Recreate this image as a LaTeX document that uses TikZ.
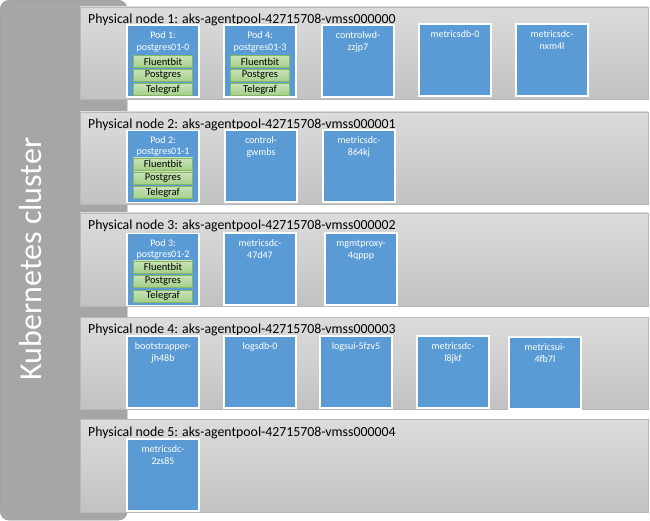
\documentclass[tikz,border=0pt]{standalone}
\usepackage{fontspec}
\setmainfont{Carlito}
\definecolor{clfill}{HTML}{A6A6A6}
\definecolor{cldraw}{HTML}{999999}
\definecolor{bdraw}{HTML}{B8B8B8}
\definecolor{btop}{HTML}{DCDCDC}
\definecolor{bbot}{HTML}{C2C2C2}
\definecolor{podblue}{HTML}{5B9BD5}
\definecolor{gdraw}{HTML}{85B765}
\definecolor{gtop}{HTML}{C9E3B8}
\definecolor{gbot}{HTML}{A5CF89}
\begin{document}
\begin{tikzpicture}[x=1pt,y=-1pt,
  cluster/.style={draw=cldraw, fill=clfill, rounded corners=9pt},
  band/.style={draw=bdraw, line width=0.8pt, top color=btop, bottom color=bbot, anchor=north west, minimum width=568pt, minimum height=92pt, inner sep=0pt, outer sep=0pt},
  bandtitle/.style={anchor=base west, inner sep=0pt, font=\fontsize{13.8}{16}\selectfont, text=black},
  podbox/.style={draw=white, line width=1.3pt, fill=podblue, anchor=north west, minimum width=72pt, minimum height=72pt, inner sep=0pt, outer sep=0pt},
  podtxt/.style={anchor=base, inner sep=0pt, text=white, font=\fontsize{10}{12}\selectfont},
  cbox/.style={draw=gdraw, line width=0.6pt, top color=gtop, bottom color=gbot, minimum width=59pt, minimum height=12pt, inner sep=0pt, font=\fontsize{10.5}{12}\selectfont, text=black},
  cltxt/.style={anchor=base, rotate=90, inner sep=0pt, text=white, font=\fontsize{32}{36}\selectfont}
]
\useasboundingbox (0,0) rectangle (650,521);

% cluster
\node[cluster, anchor=north west, minimum width=127pt, minimum height=520pt, inner sep=0pt] (cl) at (0,0) {};
\node[cltxt] (cltext) at (41.5,259) {Kubernetes cluster};

% bands
\node[band] (pn1) at (80,7) {};
\node[band] (pn2) at (80,112) {};
\node[band, minimum height=93pt] (pn3) at (80,213) {};
\node[band] (pn4) at (80,317) {};
\node[band, minimum height=93pt] (pn5) at (80,419) {};
\node[bandtitle] (t1) at (88,23.5) {Physical node 1: aks-agentpool-42715708-vmss000000};
\node[bandtitle] (t2) at (88,128.5) {Physical node 2: aks-agentpool-42715708-vmss000001};
\node[bandtitle] (t3) at (88,229.5) {Physical node 3: aks-agentpool-42715708-vmss000002};
\node[bandtitle] (t4) at (88,333.5) {Physical node 4: aks-agentpool-42715708-vmss000003};
\node[bandtitle] (t5) at (88,436.5) {Physical node 5: aks-agentpool-42715708-vmss000004};

% ---------- node 1 ----------
\node[podbox] (a1) at (127,25) {};
\node[podtxt] (a1t1) at ([yshift=-13.5pt]a1.north) {Pod 1:};
\node[podtxt] (a1t2) at ([yshift=-25.5pt]a1.north) {postgres01-0};
\node[cbox] (a1f) at ([yshift=-36.5pt]a1.north) {Fluentbit};
\node[cbox] (a1p) at ([yshift=-50.5pt]a1.north) {Postgres};
\node[cbox] (a1g) at ([yshift=-64.5pt]a1.north) {Telegraf};

\node[podbox] (a2) at (224,25) {};
\node[podtxt] (a2t1) at ([yshift=-13.5pt]a2.north) {Pod 4:};
\node[podtxt] (a2t2) at ([yshift=-25.5pt]a2.north) {postgres01-3};
\node[cbox] (a2f) at ([yshift=-36.5pt]a2.north) {Fluentbit};
\node[cbox] (a2p) at ([yshift=-50.5pt]a2.north) {Postgres};
\node[cbox] (a2g) at ([yshift=-64.5pt]a2.north) {Telegraf};

\node[podbox] (a3) at (322,25) {};
\node[podtxt] (a3t1) at ([yshift=-13.5pt]a3.north) {controlwd-};
\node[podtxt] (a3t2) at ([yshift=-25.5pt]a3.north) {zzjp7};

\node[podbox] (a4) at (419,24) {};
\node[podtxt] (a4t1) at ([yshift=-13.5pt]a4.north) {metricsdb-0};

\node[podbox] (a5) at (516,24) {};
\node[podtxt] (a5t1) at ([yshift=-13.5pt]a5.north) {metricsdc-};
\node[podtxt] (a5t2) at ([yshift=-25.5pt]a5.north) {nxm4l};

% ---------- node 2 ----------
\node[podbox] (b1) at (127,130.5) {};
\node[podtxt] (b1t1) at ([yshift=-13pt]b1.north) {Pod 2:};
\node[podtxt] (b1t2) at ([yshift=-24.5pt]b1.north) {postgres01-1};
\node[cbox] (b1f) at ([yshift=-33.5pt]b1.north) {Fluentbit};
\node[cbox] (b1p) at ([yshift=-47.5pt]b1.north) {Postgres};
\node[cbox] (b1g) at ([yshift=-62pt]b1.north) {Telegraf};

\node[podbox] (b2) at (225,130) {};
\node[podtxt] (b2t1) at ([yshift=-13.5pt]b2.north) {control-};
\node[podtxt] (b2t2) at ([yshift=-25.5pt]b2.north) {gwmbs};

\node[podbox] (b3) at (323,130) {};
\node[podtxt] (b3t1) at ([yshift=-13.5pt]b3.north) {metricsdc-};
\node[podtxt] (b3t2) at ([yshift=-25.5pt]b3.north) {864kj};

% ---------- node 3 ----------
\node[podbox] (c1) at (127,233.5) {};
\node[podtxt] (c1t1) at ([yshift=-13pt]c1.north) {Pod 3:};
\node[podtxt] (c1t2) at ([yshift=-24.5pt]c1.north) {postgres01-2};
\node[cbox] (c1f) at ([yshift=-33.5pt]c1.north) {Fluentbit};
\node[cbox] (c1p) at ([yshift=-47.5pt]c1.north) {Postgres};
\node[cbox] (c1g) at ([yshift=-62.5pt]c1.north) {Telegraf};

\node[podbox] (c2) at (224,233) {};
\node[podtxt] (c2t1) at ([yshift=-13.5pt]c2.north) {metricsdc-};
\node[podtxt] (c2t2) at ([yshift=-25.5pt]c2.north) {47d47};

\node[podbox] (c3) at (325,233) {};
\node[podtxt] (c3t1) at ([yshift=-13.5pt]c3.north) {mgmtproxy-};
\node[podtxt] (c3t2) at ([yshift=-25.5pt]c3.north) {4qppp};

% ---------- node 4 ----------
\node[podbox] (d1) at (127,336) {};
\node[podtxt] (d1t1) at ([yshift=-13.5pt]d1.north) {bootstrapper-};
\node[podtxt] (d1t2) at ([yshift=-25.5pt]d1.north) {jh48b};

\node[podbox] (d2) at (224,336) {};
\node[podtxt] (d2t1) at ([yshift=-13.5pt]d2.north) {logsdb-0};

\node[podbox] (d3) at (320,336) {};
\node[podtxt] (d3t1) at ([yshift=-13.5pt]d3.north) {logsui-5fzv5};

\node[podbox] (d4) at (417,336) {};
\node[podtxt] (d4t1) at ([yshift=-13.5pt]d4.north) {metricsdc-};
\node[podtxt] (d4t2) at ([yshift=-25.5pt]d4.north) {l8jkf};

\node[podbox] (d5) at (509,337) {};
\node[podtxt] (d5t1) at ([yshift=-13.5pt]d5.north) {metricsui-};
\node[podtxt] (d5t2) at ([yshift=-25.5pt]d5.north) {4fb7l};

% ---------- node 5 ----------
\node[podbox] (e1) at (127,439) {};
\node[podtxt] (e1t1) at ([yshift=-13.5pt]e1.north) {metricsdc-};
\node[podtxt] (e1t2) at ([yshift=-25.5pt]e1.north) {2zs85};
\end{tikzpicture}
\end{document}
